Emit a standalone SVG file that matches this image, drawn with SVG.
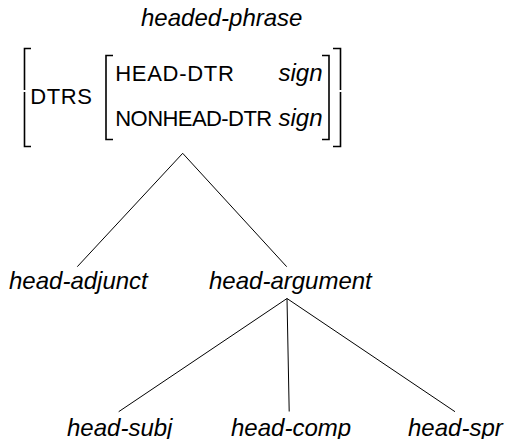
<svg xmlns="http://www.w3.org/2000/svg" width="507" height="439" viewBox="0 0 507 439">
  <style>
    .type { font-family: "Liberation Sans", Arial, sans-serif; font-style: italic; font-size: 24px; fill: #000; }
    .feat { font-family: "Liberation Sans", Arial, sans-serif; font-size: 22px; fill: #000; }
    .brk { fill: none; stroke: #000; stroke-width: 1.6; }
    .edge { fill: none; stroke: #000; stroke-width: 1; }
  </style>
  <rect width="507" height="439" fill="#fff"/>

  <!-- root type with its feature structure -->
  <g id="headed-phrase">
    <text class="type" x="141" y="25.5">headed-phrase</text>
    <!-- outer brackets -->
    <path class="brk" d="M31 48.5 H24.5 V90 M24.5 92 V146.5 H31"/>
    <path class="brk" d="M333 48.5 H340.5 V90 M340.5 92 V146.5 H333"/>
    <text class="feat" x="30.2" y="104" textLength="61.7" lengthAdjust="spacing">DTRS</text>
    <!-- inner brackets -->
    <path class="brk" d="M113 55.5 H106 V139.5 H113"/>
    <path class="brk" d="M322 55.5 H329 V139.5 H322"/>
    <text class="feat" x="115.2" y="80.5" textLength="118.6" lengthAdjust="spacing">HEAD-DTR</text>
    <text class="type" x="278.5" y="80.5">sign</text>
    <text class="feat" x="115.3" y="126" textLength="156.9" lengthAdjust="spacing">NONHEAD-DTR</text>
    <text class="type" x="278.5" y="126">sign</text>
  </g>

  <g id="head-adjunct">
    <text class="type" x="9" y="289.3">head-adjunct</text>
  </g>
  <g id="head-argument">
    <text class="type" x="209" y="289.3">head-argument</text>
  </g>
  <g id="head-subj">
    <text class="type" x="67" y="435.5">head-subj</text>
  </g>
  <g id="head-comp">
    <text class="type" x="231" y="435.5">head-comp</text>
  </g>
  <g id="head-spr">
    <text class="type" x="408" y="435.5">head-spr</text>
  </g>

  <!-- subtype links -->
  <g id="connectors">
    <path class="edge" d="M182.7 153.3 L77.3 266.7"/>
    <path class="edge" d="M182.7 153.3 L286.7 266.7"/>
    <path class="edge" d="M287 298.5 L118.7 411.7"/>
    <path class="edge" d="M287 298.5 L289.2 411.5"/>
    <path class="edge" d="M287 298.5 L455 411.7"/>
  </g>
</svg>
